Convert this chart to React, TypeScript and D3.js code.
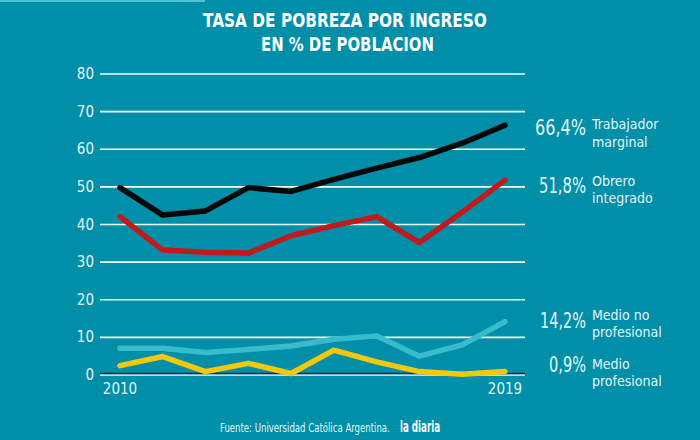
import React, { useLayoutEffect, useRef, useState } from "react";
import * as d3 from "d3";

const years = [2010, 2011, 2012, 2013, 2014, 2015, 2016, 2017, 2018, 2019];
const trabajadorMarginal = [49.8, 42.5, 43.6, 49.8, 48.8, 52.0, 55.0, 57.8, 61.6, 66.4];
const obreroIntegrado = [42.1, 33.2, 32.6, 32.4, 37.0, 39.7, 42.1, 35.2, 43.3, 51.8];
const medioNoProfesional = [7.1, 7.1, 6.0, 6.8, 7.7, 9.5, 10.4, 5.0, 8.0, 14.2];
const medioProfesional = [2.5, 4.9, 0.9, 3.1, 0.4, 6.6, 3.5, 0.9, 0.2, 0.9];
const yTicks = [0, 10, 20, 30, 40, 50, 60, 70, 80];
const xTickLabels = ["2010", "2019"];

const seriesNames = ["Trabajador marginal", "Obrero integrado", "Medio no profesional", "Medio profesional"];
const seriesLabelLines = [["Trabajador", "marginal"], ["Obrero", "integrado"], ["Medio no", "profesional"], ["Medio", "profesional"]];
const seriesValueLabels = ["66,4%", "51,8%", "14,2%", "0,9%"];

const W = 700, H = 440;
const BG = "#008fa9";
const TXT = "#e3f6f9";
const FONT = "'DejaVu Sans Condensed', 'Roboto Condensed', Roboto, sans-serif";

type FitProps = { x: number; y: number; width: number; children: string; [k: string]: any };

function FitText({ x, y, width, children, ...rest }: FitProps) {
  const ref = useRef<SVGTextElement>(null);
  const [sx, setSx] = useState(1);
  useLayoutEffect(() => {
    if (ref.current) {
      const w = ref.current.getComputedTextLength();
      if (w > 0) setSx(width / w);
    }
  }, [children, width]);
  return (
    <text ref={ref} x={0} y={0} transform={`translate(${x},${y}) scale(${sx},1)`} {...rest}>
      {children}
    </text>
  );
}

export default function App() {
  const x = d3.scaleLinear().domain([2010, 2019]).range([120, 505]);
  const y = d3.scaleLinear().domain([0, 80]).range([375, 74]);
  const line = d3.line<number>().x((_, i) => x(years[i])).y((v) => y(v)).curve(d3.curveLinear);

  const data = [trabajadorMarginal, obreroIntegrado, medioNoProfesional, medioProfesional];
  const colors = ["#070707", "#c01a1c", "#38bccc", "#f4c80c"];
  const drawOrder = [2, 3, 1, 0];
  const valueY = [135, 193, 328, 372];
  const valueW = [51, 47, 46, 37];
  const labelY = [[129, 147], [186, 203], [320, 337], [369, 386]];

  return (
    <svg width={W} height={H} style={{ position: "absolute", left: 0, top: 0, display: "block" }}>
      <rect x={0} y={0} width={W} height={H} fill={BG} />
      <rect x={0} y={0} width={205} height={2} fill="#4cc3d6" />
      <FitText x={203} y={27} width={284} fill="#ffffff" fontFamily={FONT} fontWeight="bold" fontSize={20}>
        TASA DE POBREZA POR INGRESO
      </FitText>
      <FitText x={261} y={51} width={173} fill="#ffffff" fontFamily={FONT} fontWeight="bold" fontSize={20}>
        EN % DE POBLACION
      </FitText>
      {yTicks.map((t) => (
        <g key={t}>
          <line x1={100} x2={525} y1={y(t)} y2={y(t)} stroke="#f2fbfd" strokeWidth={1.6} />
          <text x={94} y={y(t) + 5} textAnchor="end" fill={TXT} fontFamily={FONT} fontSize={15}>
            {t}
          </text>
        </g>
      ))}
      <line x1={100} x2={525} y1={y(0) - 1.5} y2={y(0) - 1.5} stroke="#0b2f45" strokeWidth={1.5} />
      {xTickLabels.map((l) => (
        <text key={l} x={x(+l)} y={394} textAnchor="middle" fill={TXT} fontFamily={FONT} fontSize={15}>
          {l}
        </text>
      ))}
      {drawOrder.map((i) => (
        <path key={seriesNames[i]} d={line(data[i]) || ""} fill="none" stroke={colors[i]} strokeWidth={5.5}
          strokeLinejoin="round" strokeLinecap="round" />
      ))}
      {seriesNames.map((n, i) => (
        <g key={n}>
          <FitText x={586 - valueW[i]} y={valueY[i]} width={valueW[i]} fill={TXT} fontFamily={FONT} fontSize={21}>
            {seriesValueLabels[i]}
          </FitText>
          {seriesLabelLines[i].map((s, j) => (
            <text key={s + j} x={592} y={labelY[i][j]} fill={TXT} fontFamily={FONT} fontSize={14}>
              {s}
            </text>
          ))}
        </g>
      ))}
      <FitText x={220} y={432} width={170} fill={TXT} fontFamily={FONT} fontSize={12.5}>
        Fuente: Universidad Católica Argentina.
      </FitText>
      <FitText x={400} y={432} width={40} fill="#ffffff" fontFamily={FONT} fontWeight="bold" fontSize={15}>
        la diaria
      </FitText>
    </svg>
  );
}
